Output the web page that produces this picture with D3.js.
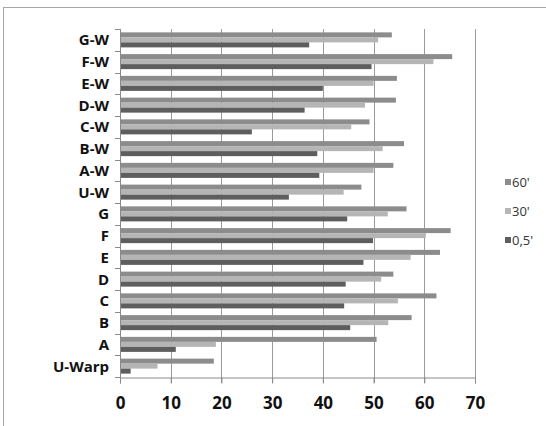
<!DOCTYPE html>
<html lang="en">
<head>
  <meta charset="UTF-8">
  <title>Bar chart</title>
  <script src="https://d3js.org/d3.v7.min.js"></script>
  <style>
    body { margin: 0; background: #fff; }
    .cat text { font-family: "Open Sans"; font-weight: bold; font-size: 15px; fill: #111; }
    .num text { font-family: "Open Sans"; font-weight: bold; font-size: 17px; fill: #111; }
    .legend text { font-family: "Open Sans"; font-size: 13px; fill: #333; }
  </style>
</head>
<body>
<script>
  // chart size
  var w = 546, h = 426;

  // categories, top to bottom
  var categories = ["G-W", "F-W", "E-W", "D-W", "C-W", "B-W", "A-W", "U-W",
                    "G", "F", "E", "D", "C", "B", "A", "U-Warp"];
  var seriesNames = ["60'", "30'", "0,5'"];
  var s60  = [53.6, 65.5, 54.6, 54.4, 49.2, 56.0, 53.9, 47.6, 56.5, 65.2, 63.1, 53.9, 62.4, 57.5, 50.6, 18.5];
  var s30  = [50.9, 61.8, 50.0, 48.3, 45.6, 51.8, 50.0, 44.1, 52.8, 60.3, 57.3, 51.5, 54.8, 52.9, 18.9, 7.4];
  var s05  = [37.3, 49.6, 40.0, 36.4, 26.0, 38.9, 39.3, 33.3, 44.8, 49.9, 48.0, 44.5, 44.2, 45.4, 11.0, 2.1];
  var xTicks = [0, 10, 20, 30, 40, 50, 60, 70];
  var colors = ["#8c8c8c", "#b5b5b5", "#5e5e5e"];

  var allSeries = [s60, s30, s05];

  var svg = d3.select("body").append("svg")
    .attr("width", w)
    .attr("height", h);

  // outer frame
  svg.append("rect")
    .attr("x", 3.5).attr("y", 7.5)
    .attr("width", w).attr("height", h)
    .attr("fill", "none")
    .attr("stroke", "#a6a6a6");

  var padL = 120, padR = 475, padT = 29, padB = 377;

  var xScale = d3.scaleLinear().domain([0, 70]).range([padL, padR]);
  var yScale = d3.scaleBand().domain(categories).range([padT, padB])
    .paddingInner(0.31).paddingOuter(0.155);
  var ySub = d3.scaleBand().domain(d3.range(3)).range([0, yScale.bandwidth()]);

  // vertical gridlines
  svg.append("g").selectAll("line")
    .data(xTicks.slice(1))
    .enter().append("line")
    .attr("x1", function(d) { return Math.round(xScale(d)) + 0.5; })
    .attr("x2", function(d) { return Math.round(xScale(d)) + 0.5; })
    .attr("y1", padT).attr("y2", padB + 6)
    .attr("stroke", "#9a9a9a");

  // bars
  allSeries.forEach(function(vals, si) {
    svg.append("g").selectAll("rect")
      .data(vals)
      .enter().append("rect")
      .attr("x", xScale(0))
      .attr("y", function(d, i) { return yScale(categories[i]) + ySub(si); })
      .attr("height", ySub.bandwidth())
      .attr("width", function(d) { return xScale(d) - xScale(0); })
      .attr("fill", colors[si]);
  });

  // x axis
  var xAxis = d3.axisBottom(xScale).tickValues(xTicks).tickSize(6).tickPadding(17);
  var gx = svg.append("g")
    .attr("class", "num")
    .attr("transform", "translate(0," + (padB + 0.5) + ")")
    .call(xAxis);
  gx.select(".domain").attr("stroke", "#8a8a8a");
  gx.selectAll(".tick line").attr("stroke", "#8a8a8a");
  gx.selectAll("text").attr("dy", "0.5em");

  // y axis: ticks at category boundaries
  var gy = svg.append("g").attr("class", "cat");
  var step = yScale.step();
  gy.append("line")
    .attr("x1", padL + 0.5).attr("x2", padL + 0.5)
    .attr("y1", padT).attr("y2", padB + 6)
    .attr("stroke", "#8a8a8a");
  gy.selectAll("line.tk")
    .data(d3.range(categories.length + 1))
    .enter().append("line")
    .attr("class", "tk")
    .attr("x1", padL - 5).attr("x2", padL)
    .attr("y1", function(i) { return Math.round(padT + i * step) + 0.5; })
    .attr("y2", function(i) { return Math.round(padT + i * step) + 0.5; })
    .attr("stroke", "#8a8a8a");
  gy.selectAll("text")
    .data(categories)
    .enter().append("text")
    .attr("x", padL - 11)
    .attr("y", function(d) { return yScale(d) + yScale.bandwidth() / 2; })
    .attr("dy", "0.36em")
    .attr("text-anchor", "end")
    .text(function(d) { return d; });

  // legend
  var legend = svg.append("g").attr("class", "legend");
  seriesNames.forEach(function(name, i) {
    var ly = 182 + i * 29;
    legend.append("rect")
      .attr("x", 505).attr("y", ly - 3)
      .attr("width", 6).attr("height", 6)
      .attr("fill", colors[i]);
    legend.append("text")
      .attr("x", 512).attr("y", ly)
      .attr("dy", "0.36em")
      .text(name);
  });
</script>
</body>
</html>
